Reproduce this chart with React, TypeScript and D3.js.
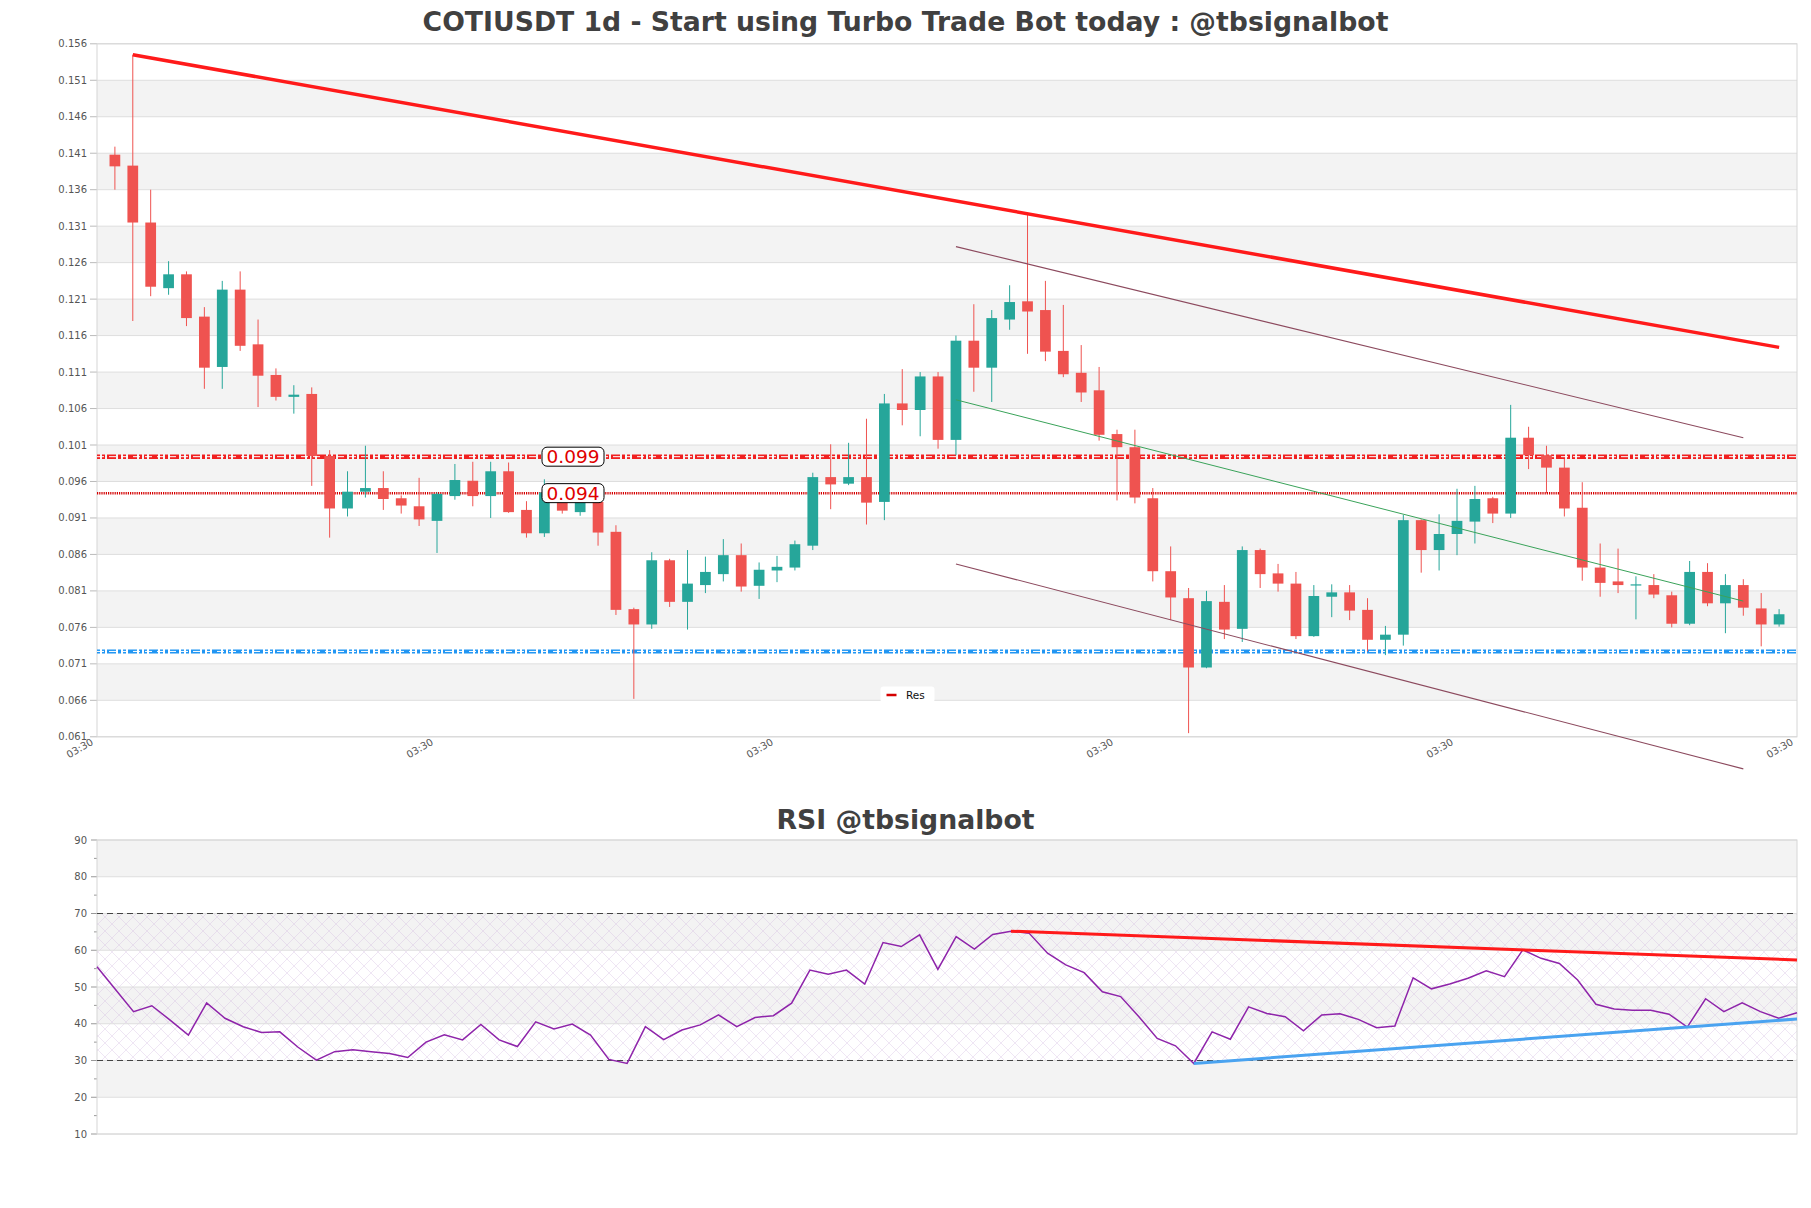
import React from "react";
import * as d3 from "d3";

const W = 1811;
const H = 1208;

const opens = [
  0.1408, 0.1393, 0.1315, 0.1225, 0.1244, 0.1186, 0.1117, 0.1223, 0.1148, 0.1106,
  0.1076, 0.108, 0.0995, 0.0923, 0.0946, 0.0951, 0.0937, 0.0926, 0.0906, 0.094,
  0.0961, 0.094, 0.0974, 0.0921, 0.0889, 0.0937, 0.0918, 0.0932, 0.0891, 0.0785,
  0.0764, 0.0852, 0.0795, 0.0818, 0.0833, 0.0859, 0.0817, 0.0838, 0.0842, 0.0872,
  0.0966, 0.0957, 0.0966, 0.0932, 0.1067, 0.1058, 0.1104, 0.1017, 0.1153, 0.1116,
  0.1182, 0.1207, 0.1195, 0.1139, 0.1109, 0.1085, 0.1025, 0.1007, 0.0937, 0.0837,
  0.08, 0.0705, 0.0795, 0.0758, 0.0866, 0.0834, 0.082, 0.0748, 0.0802, 0.0808,
  0.0784, 0.0743, 0.075, 0.0907, 0.0866, 0.0888, 0.0905, 0.0937, 0.0916, 0.102,
  0.0996, 0.0979, 0.0924, 0.0842, 0.0823, 0.0818, 0.0818, 0.0804, 0.0765, 0.0836,
  0.0793, 0.0818, 0.0786, 0.0764,
];
const highs = [
  0.1419, 0.1545, 0.136, 0.1262, 0.1248, 0.1199, 0.1235, 0.1248, 0.1182, 0.1115,
  0.1092, 0.1089, 0.1003, 0.0974, 0.1009, 0.0974, 0.0941, 0.0965, 0.0945, 0.0984,
  0.0987, 0.0987, 0.0986, 0.0933, 0.0963, 0.0945, 0.0935, 0.0936, 0.09, 0.0787,
  0.0863, 0.0854, 0.0866, 0.0857, 0.0881, 0.0875, 0.0849, 0.0858, 0.0879, 0.0972,
  0.1011, 0.1013, 0.1046, 0.108, 0.1114, 0.111, 0.111, 0.116, 0.1203, 0.1195,
  0.1229, 0.1327, 0.1235, 0.1202, 0.1147, 0.1117, 0.1031, 0.1031, 0.0951, 0.0871,
  0.0814, 0.081, 0.0818, 0.0871, 0.0868, 0.0847, 0.0836, 0.0818, 0.0819, 0.0818,
  0.08, 0.0762, 0.0914, 0.0908, 0.0915, 0.095, 0.0954, 0.0939, 0.1065, 0.1035,
  0.1009, 0.0991, 0.0959, 0.0875, 0.0868, 0.083, 0.0833, 0.0809, 0.0851, 0.0848,
  0.0833, 0.0826, 0.0807, 0.0785,
];
const lows = [
  0.136, 0.118, 0.1214, 0.1216, 0.1173, 0.1087, 0.1087, 0.1139, 0.1062, 0.1071,
  0.1053, 0.0954, 0.0883, 0.0912, 0.0938, 0.0921, 0.0916, 0.0899, 0.0862, 0.0935,
  0.0926, 0.091, 0.0917, 0.0883, 0.0884, 0.0916, 0.0913, 0.0872, 0.0777, 0.0662,
  0.0758, 0.0788, 0.0757, 0.0807, 0.0823, 0.0809, 0.0799, 0.0822, 0.0838, 0.0866,
  0.0922, 0.0955, 0.0901, 0.0907, 0.1037, 0.1022, 0.1005, 0.0996, 0.1083, 0.1069,
  0.1168, 0.1135, 0.1125, 0.1103, 0.1069, 0.1016, 0.0934, 0.093, 0.0823, 0.077,
  0.0615, 0.0704, 0.0744, 0.074, 0.0814, 0.0809, 0.0744, 0.0747, 0.0774, 0.077,
  0.0727, 0.0722, 0.0735, 0.0835, 0.0838, 0.0859, 0.0875, 0.0903, 0.091, 0.0977,
  0.0944, 0.0912, 0.0824, 0.0802, 0.0807, 0.0771, 0.08, 0.076, 0.0763, 0.0789,
  0.0752, 0.0776, 0.0734, 0.0761,
];
const closes = [
  0.1392, 0.1315, 0.1227, 0.1244, 0.1184, 0.1116, 0.1223, 0.1146, 0.1105, 0.1076,
  0.1079, 0.0995, 0.0923, 0.0946, 0.0951, 0.0936, 0.0927, 0.0908, 0.0943, 0.0962,
  0.094, 0.0974, 0.0918, 0.0889, 0.0945, 0.092, 0.0932, 0.089, 0.0784, 0.0764,
  0.0852, 0.0795, 0.082, 0.0836, 0.0859, 0.0816, 0.0839, 0.0843, 0.0874, 0.0966,
  0.0956, 0.0966, 0.0931, 0.1067, 0.1058, 0.1104, 0.1017, 0.1153, 0.1116, 0.1184,
  0.1206, 0.1193, 0.1138, 0.1107, 0.1082, 0.1024, 0.1007, 0.0938, 0.0837, 0.0801,
  0.0705, 0.0796, 0.0757, 0.0866, 0.0833, 0.082, 0.0748, 0.0803, 0.0808, 0.0783,
  0.0743, 0.075, 0.0907, 0.0866, 0.0888, 0.0906, 0.0936, 0.0916, 0.102, 0.0996,
  0.0979, 0.0923, 0.0842, 0.0821, 0.0818, 0.0819, 0.0805, 0.0765, 0.0836, 0.0793,
  0.0818, 0.0787, 0.0764, 0.0778,
];

const rsiValues = [
  55.5, 49.4, 43.3, 44.9, 41.0, 36.9, 45.7, 41.5, 39.2, 37.6,
  37.8, 33.6, 30.1, 32.4, 32.9, 32.4, 31.9, 30.8, 35.0, 37.0,
  35.6, 39.8, 35.6, 33.8, 40.5, 38.6, 39.9, 36.9, 30.3, 29.2,
  39.2, 35.7, 38.3, 39.7, 42.4, 39.2, 41.7, 42.2, 45.6, 54.6,
  53.5, 54.6, 50.8, 62.1, 61.0, 64.2, 54.8, 63.7, 60.3, 64.3,
  65.2, 64.6, 59.2, 56.0, 53.9, 48.7, 47.4, 41.9, 36.0, 34.0,
  29.2, 37.8, 35.8, 44.6, 42.8, 41.9, 38.1, 42.4, 42.7, 41.2,
  38.9, 39.4, 52.5, 49.5, 50.8, 52.4, 54.4, 52.8, 60.1, 57.8,
  56.4, 51.9, 45.3, 44.0, 43.7, 43.7, 42.6, 39.1, 46.8, 43.3,
  45.7, 43.3, 41.5, 43.0,
];

const priceTickLabels = [
  "0.061", "0.066", "0.071", "0.076", "0.081", "0.086", "0.091", "0.096", "0.101", "0.106",
  "0.111", "0.116", "0.121", "0.126", "0.131", "0.136", "0.141", "0.146", "0.151", "0.156",
];
const xTickLabels = ["03:30", "03:30", "03:30", "03:30", "03:30", "03:30"];
const rsiTickLabels = [10, 20, 30, 40, 50, 60, 70, 80, 90];
const rsiMinorTicks = [15, 25, 35, 45, 55, 65, 75, 85];

// horizontal levels
const resistanceLevel = 0.0994;
const priceMarkLevel = 0.0944;
const supportLevel = 0.0727;
const levelLabels = ["0.099", "0.094"];
const levelLabelIndex = 25.6;

// trend lines as [index, value] anchors, extended to endIndex
const resTrendAnchors = [[1, 0.1545], [51, 0.1327]];
const channelUpper = [[47, 0.1282], [91, 0.102]];
const channelLower = [[47, 0.0847], [91, 0.0566]];
const channelMid = [[47, 0.1072], [91, 0.0796]];
const rsiResAnchors = [[50, 65.2], [78, 60.1]];
const rsiSupAnchors = [[60, 29.2], [87, 39.1]];

const TITLE = "COTIUSDT 1d - Start using Turbo Trade Bot today : @tbsignalbot";
const RSI_TITLE = "RSI @tbsignalbot";
const FONT = "DejaVu Sans, Verdana, sans-serif";

function extendLine(anchors: number[][], endIndex: number) {
  const [[i1, v1], [i2, v2]] = anchors;
  const slope = (v2 - v1) / (i2 - i1);
  return [[i1, v1], [endIndex, v1 + slope * (endIndex - i1)]];
}

export default function App() {
  const n = closes.length;
  const left = 97, right = 1797;
  const xMain = d3.scaleLinear().domain([-1, n]).range([left, right]);
  const yMain = d3.scaleLinear().domain([0.061, 0.156]).range([736.8, 43.8]);
  const xRsi = d3.scaleLinear().domain([0, rsiValues.length - 1]).range([left, right]);
  const yRsi = d3.scaleLinear().domain([10, 90]).range([1134, 840]);

  const step = xMain(1) - xMain(0);
  const bodyW = step * 0.6;
  const priceTicks = priceTickLabels.map((t) => +t);
  const xTickPos = xTickLabels.map((_, j) => -1 + (j * (n + 1)) / (xTickLabels.length - 1));

  const mainLine = d3.line<number[]>().x((d) => xMain(d[0])).y((d) => yMain(d[1]));
  const rsiLine = d3.line<number>().x((_, i) => xRsi(i)).y((d) => yRsi(d));
  const rsiSeg = d3.line<number[]>().x((d) => xRsi(d[0])).y((d) => yRsi(d[1]));

  const up = "#26a69a";
  const down = "#ef5350";

  return (
    <svg
      width={W}
      height={H}
      style={{ position: "absolute", left: 0, top: 0, background: "#fff" }}
      fontFamily={FONT}
    >
      <defs>
        <pattern id="hatch" width="14" height="14" patternUnits="userSpaceOnUse">
          <path d="M0,0 L14,14 M14,0 L0,14" stroke="#c9a9d9" strokeWidth="0.6" opacity="0.5" />
        </pattern>
      </defs>
      <rect x={0} y={0} width={W} height={H} fill="#fff" />

      {/* Title */}
      <text x={W / 2} y={31} textAnchor="middle" fontSize={26.7} fontWeight="bold" fill="#404040">
        {TITLE}
      </text>

      {/* Main bands */}
      {priceTicks.slice(0, -1).map((t, k) =>
        k % 2 === 1 ? (
          <rect
            key={"band" + k}
            x={left}
            y={yMain(priceTicks[k + 1])}
            width={right - left}
            height={yMain(t) - yMain(priceTicks[k + 1])}
            fill="#f3f3f3"
          />
        ) : null
      )}
      {priceTicks.map((t, k) => (
        <g key={"pt" + k}>
          <line x1={left} x2={right} y1={yMain(t)} y2={yMain(t)} stroke="#dedede" strokeWidth={1} />
          <line x1={left - 7} x2={left} y1={yMain(t)} y2={yMain(t)} stroke="#bbb" strokeWidth={1} />
          <text x={left - 10} y={yMain(t)} dy="0.35em" textAnchor="end" fontSize={10} fill="#555">
            {priceTickLabels[k]}
          </text>
        </g>
      ))}
      <rect x={left} y={yMain(0.156)} width={right - left} height={yMain(0.061) - yMain(0.156)} fill="none" stroke="#d6d6d6" />

      {/* X tick labels */}
      {xTickPos.map((p, j) => (
        <text
          key={"xt" + j}
          transform={`translate(${xMain(p) - 3},${744}) rotate(-30)`}
          textAnchor="end"
          fontSize={10}
          fill="#555"
        >
          {xTickLabels[j]}
        </text>
      ))}

      {/* Horizontal levels */}
      <line x1={left} x2={right} y1={yMain(resistanceLevel)} y2={yMain(resistanceLevel)} stroke="#f02020" strokeWidth={4.5} strokeDasharray="3 2 3 2 9 2" />
      <line x1={left} x2={right} y1={yMain(resistanceLevel)} y2={yMain(resistanceLevel)} stroke="#fff" strokeWidth={1} strokeDasharray="7 5" />
      <line x1={left} x2={right} y1={yMain(priceMarkLevel)} y2={yMain(priceMarkLevel)} stroke="#d40000" strokeWidth={2.5} strokeDasharray="1.2 1" />
      <line x1={left} x2={right} y1={yMain(supportLevel)} y2={yMain(supportLevel)} stroke="#2196f3" strokeWidth={4} strokeDasharray="3 2 3 2 9 2" />
      <line x1={left} x2={right} y1={yMain(supportLevel)} y2={yMain(supportLevel)} stroke="#fff" strokeWidth={1} strokeDasharray="7 5" />

      {/* Candles */}
      {closes.map((c, i) => {
        const o = opens[i];
        const col = c >= o ? up : down;
        const x = xMain(i);
        const yTop = yMain(Math.max(o, c));
        const yBot = yMain(Math.min(o, c));
        return (
          <g key={"c" + i}>
            <line x1={x} x2={x} y1={yMain(highs[i])} y2={yMain(lows[i])} stroke={col} strokeWidth={1} />
            <rect x={x - bodyW / 2} y={yTop} width={bodyW} height={Math.max(1.2, yBot - yTop)} fill={col} />
          </g>
        );
      })}

      {/* Trend lines */}
      <path d={mainLine(extendLine(resTrendAnchors, n - 1)) || ""} stroke="#ff1a1a" strokeWidth={3.5} fill="none" />
      <path d={mainLine(channelUpper) || ""} stroke="#8c4a5e" strokeWidth={1.1} fill="none" />
      <path d={mainLine(channelLower) || ""} stroke="#8c4a5e" strokeWidth={1.1} fill="none" />
      <path d={mainLine(channelMid) || ""} stroke="#3aa35a" strokeWidth={1} fill="none" />

      {/* Level labels */}
      {[resistanceLevel, priceMarkLevel].map((lv, k) => (
        <g key={"ll" + k}>
          <rect x={xMain(levelLabelIndex) - 31} y={yMain(lv) - 9.5} width={62} height={19} rx={5} fill="#fff" stroke="#000" strokeWidth={1} />
          <text x={xMain(levelLabelIndex)} y={yMain(lv)} dy="0.36em" textAnchor="middle" fontSize={18.5} fill="#e00000">
            {levelLabels[k]}
          </text>
        </g>
      ))}

      {/* Legend */}
      <g>
        <rect x={W / 2 - 25} y={686.5} width={54} height={16} rx={3} fill="#fff" />
        <line x1={W / 2 - 19} x2={W / 2 - 9} y1={695} y2={695} stroke="#d40000" strokeWidth={2.5} />
        <text x={W / 2 + 0.5} y={695} dy="0.35em" fontSize={10.5} fill="#111">
          Res
        </text>
      </g>

      {/* RSI title */}
      <text x={W / 2} y={829} textAnchor="middle" fontSize={26.7} fontWeight="bold" fill="#404040">
        {RSI_TITLE}
      </text>

      {/* RSI bands */}
      {rsiTickLabels.slice(0, -1).map((t, k) =>
        k % 2 === 1 ? (
          <rect key={"rb" + k} x={left} y={yRsi(t + 10)} width={right - left} height={yRsi(t) - yRsi(t + 10)} fill="#f3f3f3" />
        ) : null
      )}
      <rect x={left} y={yRsi(70)} width={right - left} height={yRsi(30) - yRsi(70)} fill="url(#hatch)" />
      {rsiTickLabels.map((t) => (
        <g key={"rt" + t}>
          <line x1={left} x2={right} y1={yRsi(t)} y2={yRsi(t)} stroke="#dedede" />
          <line x1={left - 6} x2={left} y1={yRsi(t)} y2={yRsi(t)} stroke="#999" />
          <text x={left - 10} y={yRsi(t)} dy="0.35em" textAnchor="end" fontSize={10} fill="#555">
            {t}
          </text>
        </g>
      ))}
      {rsiMinorTicks.map((t) => (
        <line key={"rm" + t} x1={left - 3} x2={left} y1={yRsi(t)} y2={yRsi(t)} stroke="#999" />
      ))}
      <rect x={left} y={yRsi(90)} width={right - left} height={yRsi(10) - yRsi(90)} fill="none" stroke="#d6d6d6" />
      <line x1={left} x2={right} y1={yRsi(70)} y2={yRsi(70)} stroke="#444" strokeWidth={1.2} strokeDasharray="6 4" />
      <line x1={left} x2={right} y1={yRsi(30)} y2={yRsi(30)} stroke="#444" strokeWidth={1.2} strokeDasharray="6 4" />

      <path d={rsiLine(rsiValues) || ""} stroke="#8e24aa" strokeWidth={1.5} fill="none" />
      <path d={rsiSeg(extendLine(rsiResAnchors, rsiValues.length - 1)) || ""} stroke="#ff1a1a" strokeWidth={3} fill="none" />
      <path d={rsiSeg(extendLine(rsiSupAnchors, rsiValues.length - 1)) || ""} stroke="#4aa3f0" strokeWidth={3} fill="none" />
    </svg>
  );
}
